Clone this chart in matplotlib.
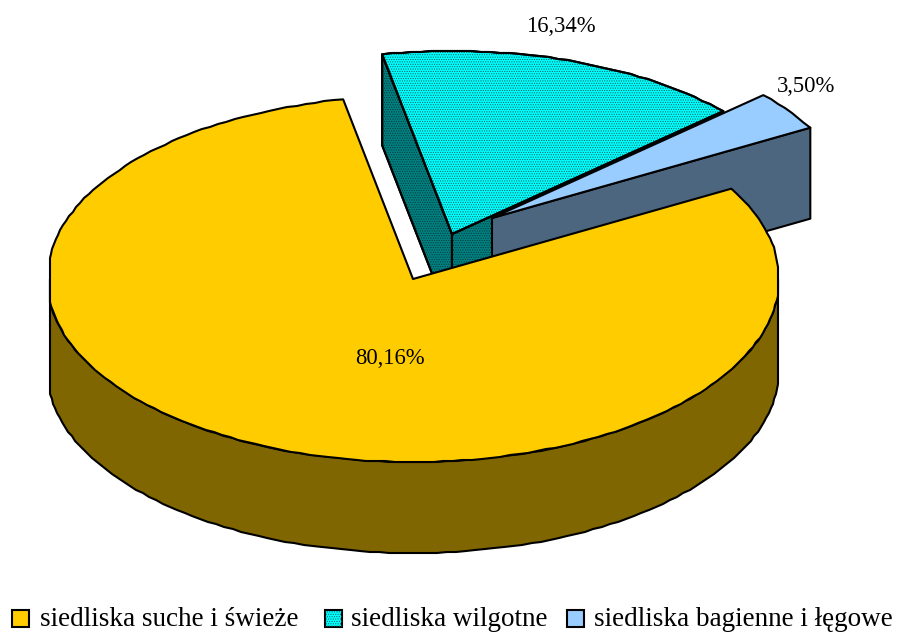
#!/usr/bin/python
#coding:utf-8
import matplotlib
matplotlib.use('agg')
import matplotlib.pyplot as plt
from matplotlib.patches import Polygon, Rectangle
import numpy as np

labels = ['siedliska suche i świeże', 'siedliska wilgotne', 'siedliska bagienne i łęgowe']
values = [80.16, 16.34, 3.50]
pct_text = ['80,16%', '16,34%', '3,50%']

plt.rcParams['font.family'] = ['Liberation Serif', 'DejaVu Sans']
plt.rcParams['hatch.linewidth'] = 0.5

top_cols = ['#FFCC00', '#00FFFF', '#99CCFF']
wall_cols = ['#806600', '#008080', '#4D6680']

# pie drawn as flattened ellipse, y axis in image pixels
RX, RY, DEPTH = 366, 183, 91
START = 101.0
CENTERS = [(413, 279), (452, 234), (492, 218)]
XMIN, XMAX = 50, 778

fig = plt.figure(figsize=(8.98, 6.35), dpi=100)
ax = fig.add_axes([0, 0, 1, 1])
ax.set_xlim(0, 898)
ax.set_ylim(635, 0)
ax.axis('off')


def arc(cen, a0, a1, clip=False):
    # polyline on whole pixels, the original outline is a bit wobbly too
    n = max(4, int(abs(a1 - a0) / 1.5))
    t = np.radians(np.linspace(a0, a1, n))
    pts = np.column_stack([cen[0] + RX * np.cos(t), cen[1] - RY * np.sin(t)])
    pts[1:-1] = np.round(pts[1:-1])
    if clip:
        pts[:, 0] = np.clip(pts[:, 0], XMIN, XMAX)
    return pts


def poly(pts, fc, z, hatch=False, hcol='#005050'):
    ax.add_patch(Polygon(pts, closed=True, fc=fc, ec='black', lw=1.5, zorder=z, joinstyle='round'))
    if hatch:
        ax.add_patch(Polygon(pts, closed=True, fill=False, ec=hcol, lw=0, hatch='.......', zorder=z + 0.1))
        ax.add_patch(Polygon(pts, closed=True, fill=False, ec='black', lw=1.5, zorder=z + 0.2, joinstyle='round'))


def drop(pts):
    return pts + np.array([0, DEPTH])


# angles go clockwise from the start for the small slices
a_wet_end = START - values[1] * 3.6
a_bog_end = a_wet_end - values[2] * 3.6
a_main_end = START + values[0] * 3.6

# wilgotne
c = CENTERS[1]
top = arc(c, START, a_wet_end)
apex = np.array([c])
poly(np.vstack([apex, top[:1], drop(top[:1]), drop(apex)]), wall_cols[1], 1, True, '#003838')
poly(np.vstack([apex, top[-1:], drop(top[-1:]), drop(apex)]), wall_cols[1], 2, True, '#003838')
poly(np.vstack([apex, top]), top_cols[1], 3, True, '#006060')

# bagienne
c = CENTERS[2]
top = arc(c, a_wet_end, a_bog_end)
apex = np.array([c])
poly(np.vstack([apex, top[-1:], drop(top[-1:]), drop(apex)]), wall_cols[2], 4)
poly(np.vstack([apex, top]), top_cols[2], 5)

# suche - outer wall only on the front half
c = CENTERS[0]
front = arc(c, 180, 360, clip=True)
poly(np.vstack([front, drop(front)[::-1]]), wall_cols[0], 6)
top = arc(c, START, a_main_end, clip=True)
poly(np.vstack([np.array([c]), top]), top_cols[0], 7)

ax.text(390, 358, pct_text[0], fontsize=16.3, ha='center', va='center', zorder=10)
ax.text(561, 27, pct_text[1], fontsize=16.3, ha='center', va='center', zorder=10)
ax.text(806, 86, pct_text[2], fontsize=16.3, ha='center', va='center', zorder=10)

# legend
box_x = [12, 325, 567]
text_x = [40, 351, 594]
for i in range(3):
    ax.add_patch(Rectangle((box_x[i], 610), 17, 17, fc=top_cols[i], ec='black', lw=1.5, zorder=10))
    if i == 1:
        ax.add_patch(Rectangle((box_x[i], 610), 17, 17, fill=False, ec='#006060', lw=0, hatch='.......', zorder=11))
    ax.text(text_x[i], 620, labels[i], fontsize=19.5, ha='left', va='center', zorder=10)

fig.savefig('out.png', dpi=100)
